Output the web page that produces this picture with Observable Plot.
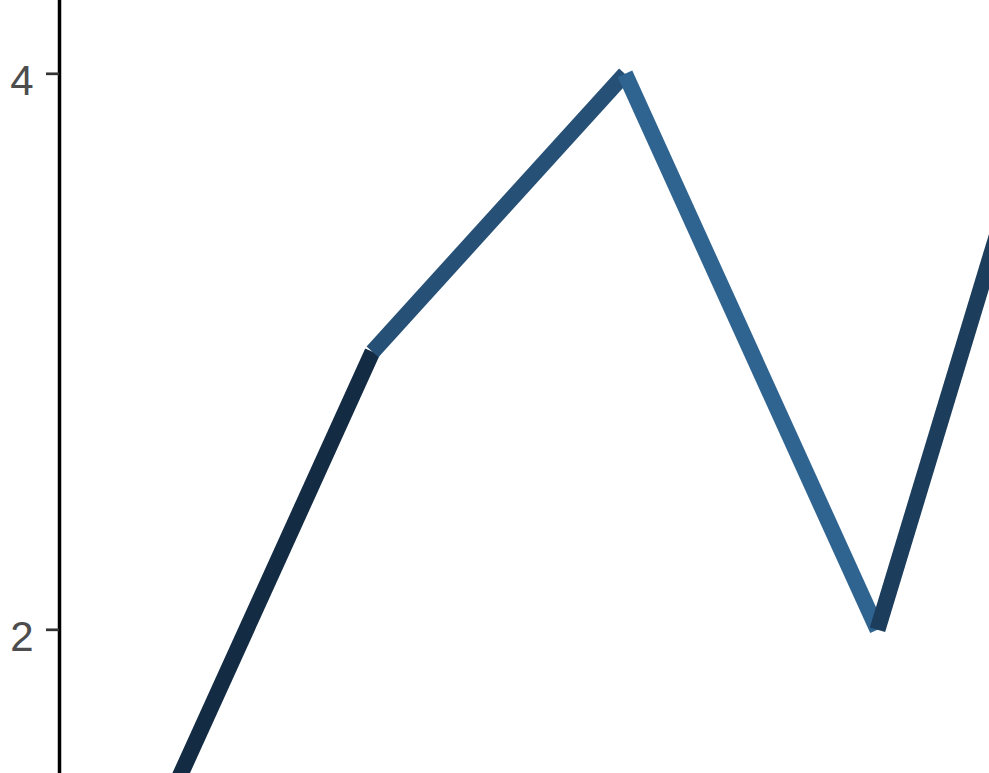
<!DOCTYPE html>
<html>
<head>
<meta charset="utf-8">
<script src="https://cdn.jsdelivr.net/npm/d3@7"></script>
<script src="https://cdn.jsdelivr.net/npm/@observablehq/plot@0.6"></script>
<style>
  html, body { margin: 0; padding: 0; background: #fff; }
  #chart svg { display: block; }
</style>
</head>
<body>
<div id="chart"></div>
<script>
// Data
const xValues = [1, 2, 3, 4, 5];
const yValues = [1, 3, 4, 2, 5];
const yTicks = [2, 4];

// Visible window (the chart is shown zoomed in)
const xDomain = [0.7604, 4.4436];
const yDomain = [1.4831, 4.2637];
const colorDomain = [1, 7.6];

const points = xValues.map((x, i) => ({x, y: yValues[i]}));
const segments = d3.pairs(points).map(([a, b]) => ({x1: a.x, y1: a.y, x2: b.x, y2: b.y, c: a.y}));

const chart = Plot.plot({
  width: 989,
  height: 773,
  marginLeft: 59,
  marginRight: 0,
  marginTop: 0,
  marginBottom: 0,
  style: {fontFamily: "'Liberation Sans', Arial, sans-serif", background: "#fff"},
  x: {domain: xDomain, axis: null},
  y: {domain: yDomain, axis: null},
  color: {type: "linear", domain: colorDomain, range: ["#132B43", "#56B1F7"], interpolate: "lab"},
  marks: [
    Plot.link(segments, {
      x1: "x1", y1: "y1", x2: "x2", y2: "y2",
      stroke: "c", strokeWidth: 16, strokeLinecap: "butt", clip: true
    }),
    Plot.ruleX([xDomain[0]], {stroke: "#000", strokeWidth: 3.5}),
    // tick marks only
    Plot.axisY(yTicks, {tickSize: 13, stroke: "#333333", strokeWidth: 2.7, fill: "none"}),
    // tick labels only
    Plot.axisY(yTicks, {
      tickSize: 0, tickPadding: 26, stroke: "none",
      fill: "#4D4D4D", fontSize: 42, dy: 7.5, tickFormat: d => String(d)
    })
  ]
});
document.getElementById("chart").appendChild(chart);
</script>
</body>
</html>
